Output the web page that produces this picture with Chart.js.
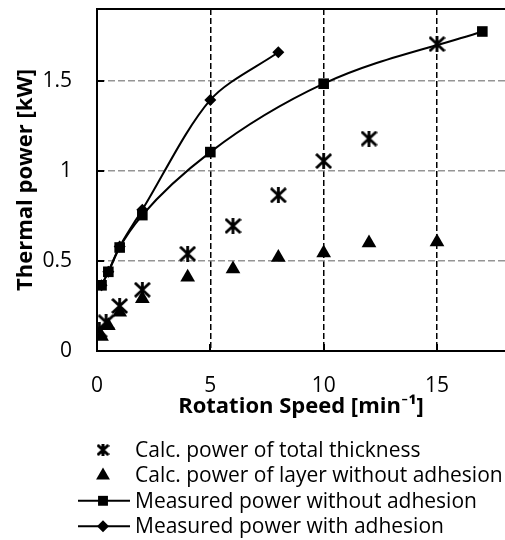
<!DOCTYPE html>
<html>
<head>
<meta charset="utf-8">
<script src="https://cdn.jsdelivr.net/npm/chart.js@4/dist/chart.umd.min.js"></script>
<style>
  html, body { margin: 0; padding: 0; background: #fff; }
  #wrap { width: 505px; height: 540px; }
</style>
</head>
<body>
<div id="wrap"><canvas id="c" width="505" height="540"></canvas></div>
<script>
// ---- data ----
const seriesNames = [
  'Calc. power of total thickness',
  'Calc. power of layer without adhesion',
  'Measured power without adhesion',
  'Measured power with adhesion'
];
const calcTotalSpeed = [0.1, 0.4, 1, 2, 4, 6, 8, 10, 12, 15];
const calcTotalPower = [0.115, 0.16, 0.25, 0.34, 0.54, 0.695, 0.865, 1.055, 1.18, 1.705];
const calcLayerSpeed = [0.2, 0.5, 1, 2, 4, 6, 8, 10, 12, 15];
const calcLayerPower = [0.08, 0.14, 0.215, 0.29, 0.41, 0.455, 0.52, 0.545, 0.6, 0.605];
const measNoAdhSpeed = [0.2, 0.5, 1, 2, 5, 10, 17];
const measNoAdhPower = [0.365, 0.44, 0.575, 0.755, 1.105, 1.485, 1.775];
const measAdhSpeed = [0.2, 0.5, 1, 2, 5, 8];
const measAdhPower = [0.365, 0.44, 0.58, 0.785, 1.395, 1.66];
const xTickStep = 5;
const yTickStep = 0.5;
const xTitle = 'Rotation Speed [min\u207B\u00B9]';
const yTitle = 'Thermal power [kW]';

const pts = (xs, ys) => xs.map((x, i) => ({ x: x, y: ys[i] }));

// asterisk marker (X with vertical bar), like the spreadsheet "star" marker
function makeStar(w, h, lw) {
  const c = document.createElement('canvas');
  c.width = w; c.height = h;
  const g = c.getContext('2d');
  g.strokeStyle = '#000'; g.lineWidth = lw; g.lineCap = 'butt';
  const m = w / 2;
  g.beginPath();
  g.moveTo(1, 1); g.lineTo(w - 1, h - 1);
  g.moveTo(w - 1, 1); g.lineTo(1, h - 1);
  g.moveTo(m, 0); g.lineTo(m, h);
  g.stroke();
  return c;
}
const starPlot = makeStar(17, 16, 2.8);
const starLegend = makeStar(13, 12, 3);

const FONT = '"Open Sans", Lato, sans-serif';

const innerTicks = {
  id: 'innerTicks',
  afterDraw(chart) {
    const { ctx, chartArea: ca, scales } = chart;
    ctx.save();
    ctx.strokeStyle = '#000';
    ctx.lineWidth = 2;
    ctx.setLineDash([]);
    ctx.beginPath();
    scales.y.ticks.forEach(t => {
      if (t.value === 0) return;
      const py = Math.round(scales.y.getPixelForValue(t.value));
      ctx.moveTo(ca.left, py); ctx.lineTo(ca.left + 7, py);
    });
    scales.x.ticks.forEach(t => {
      if (t.value === 0) return;
      const px = Math.round(scales.x.getPixelForValue(t.value));
      ctx.moveTo(px, ca.bottom); ctx.lineTo(px, ca.bottom - 7);
    });
    // top frame line
    ctx.moveTo(ca.left, ca.top); ctx.lineTo(ca.right, ca.top);
    ctx.stroke();
    ctx.restore();
  }
};

const customLegend = {
  id: 'customLegend',
  afterDraw(chart) {
    const { ctx } = chart;
    ctx.save();
    ctx.font = '21px ' + FONT;
    ctx.textBaseline = 'middle';
    ctx.textAlign = 'left';
    chart.data.datasets.forEach((ds, i) => {
      const y = 450 + i * 25.4;
      ctx.fillStyle = '#000';
      ctx.strokeStyle = '#000';
      if (ds.showLine) {
        ctx.lineWidth = 2;
        ctx.beginPath();
        ctx.moveTo(78, y); ctx.lineTo(130, y);
        ctx.stroke();
      }
      const style = ds.legendPointStyle || ds.pointStyle;
      Chart.helpers.drawPoint(ctx, {
        pointStyle: style, radius: ds.legendRadius, rotation: 0, borderWidth: 0
      }, 103, y);
      ctx.fillStyle = '#000';
      ctx.fillText(ds.label, 135, y + 1);
    });
    ctx.restore();
  }
};

const keepMultiples = step => scale => {
  scale.ticks = scale.ticks.filter(t => Math.abs(t.value / step - Math.round(t.value / step)) < 1e-9);
};

new Chart(document.getElementById('c'), {
  type: 'scatter',
  data: {
    datasets: [
      {
        label: seriesNames[0],
        data: pts(calcTotalSpeed, calcTotalPower),
        pointStyle: starPlot, legendPointStyle: starLegend, legendRadius: 7,
        pointRadius: 8, backgroundColor: '#000', borderColor: '#000',
        showLine: false
      },
      {
        label: seriesNames[1],
        data: pts(calcLayerSpeed, calcLayerPower),
        pointStyle: 'triangle', legendRadius: 8,
        pointRadius: 8.5, pointBorderWidth: 0,
        backgroundColor: '#000', borderColor: '#000',
        showLine: false
      },
      {
        label: seriesNames[2],
        data: pts(measNoAdhSpeed, measNoAdhPower),
        pointStyle: 'rect', legendRadius: 7,
        pointRadius: 7.5, pointBorderWidth: 0,
        backgroundColor: '#000', borderColor: '#000', borderWidth: 2,
        showLine: true, cubicInterpolationMode: 'monotone'
      },
      {
        label: seriesNames[3],
        data: pts(measAdhSpeed, measAdhPower),
        pointStyle: 'rectRot', legendRadius: 6,
        pointRadius: 6, pointBorderWidth: 0,
        backgroundColor: '#000', borderColor: '#000', borderWidth: 2,
        showLine: true, tension: 0.3
      }
    ]
  },
  options: {
    responsive: false,
    animation: false,
    devicePixelRatio: 1,
    layout: { autoPadding: false, padding: { left: 0, top: 9, right: 0, bottom: 120 } },
    plugins: {
      legend: { display: false },
      tooltip: { enabled: false }
    },
    scales: {
      x: {
        type: 'linear', min: 0, max: 18,
        ticks: { stepSize: xTickStep, color: '#000', padding: 22, font: { family: FONT, size: 21 },
                 callback: v => String(v) },
        afterBuildTicks: keepMultiples(xTickStep),
        afterFit(s) { s.height = 69; s.paddingLeft = 0; s.paddingRight = 0; },
        grid: { color: ctx => (ctx.tick && ctx.tick.value === 0) ? 'rgba(0,0,0,0)' : '#000', lineWidth: 1.5, drawTicks: false },
        border: { display: true, color: '#000', width: 2, dash: [6, 3] },
        title: { display: true, text: xTitle, color: '#000', padding: { top: 0, bottom: 0 }, font: { family: FONT, size: 22, weight: 'bold' } }
      },
      y: {
        type: 'linear', min: 0, max: 1.9,
        ticks: { stepSize: yTickStep, color: '#000', padding: 25, font: { family: FONT, size: 21 },
                 callback: v => String(v) },
        afterBuildTicks: keepMultiples(yTickStep),
        afterFit(s) { s.width = 97; s.paddingTop = 0; s.paddingBottom = 0; },
        grid: { color: ctx => (ctx.tick && ctx.tick.value === 0) ? 'rgba(0,0,0,0)' : '#959595', lineWidth: 1.5, drawTicks: false },
        border: { display: true, color: '#000', width: 2, dash: [7, 3] },
        title: { display: true, text: yTitle, color: '#000', padding: { top: 13, bottom: 0 }, font: { family: FONT, size: 22, weight: 'bold' } }
      }
    }
  },
  plugins: [innerTicks, customLegend]
});
</script>
</body>
</html>
